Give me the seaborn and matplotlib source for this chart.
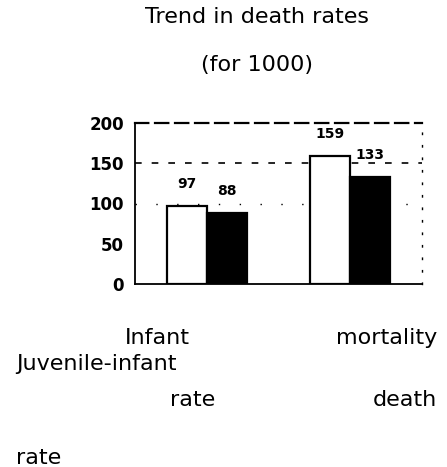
import pandas as pd
import matplotlib
matplotlib.use("Agg")
import matplotlib.pyplot as plt
import seaborn as sns

# values
categories = ["Infant mortality rate", "Juvenile-infant death rate"]
series = ["earlier", "later"]
earlier = [97, 159]
later = [88, 133]
yticks = [0, 50, 100, 150, 200]

data = pd.DataFrame({
    "category": categories * 2,
    "period": [series[0]] * 2 + [series[1]] * 2,
    "rate": earlier + later,
})

sns.set_style("white")
plt.rcParams["font.family"] = ["DejaVu Sans"]
plt.rcParams["text.color"] = "black"
plt.rcParams["ytick.color"] = "black"

W, H = 447, 467
fig = plt.figure(figsize=(W / 100, H / 100), dpi=100)
ax = fig.add_axes([135 / W, 1 - 284 / H, 287 / W, 161 / H])

sns.barplot(data=data, x="category", y="rate", hue="period",
            palette=["white", "black"], edgecolor="black", linewidth=1.6,
            width=0.56, gap=0, legend=False, ax=ax)

for c in ax.containers:
    ax.bar_label(c, padding=11, fontsize=10, fontweight="bold", color="black")

ax.set_xlim(-0.5, 1.5)
ax.set_ylim(0, 200)
ax.set_yticks(yticks)
ax.set_yticklabels([str(t) for t in yticks], fontsize=12, fontweight="bold")
ax.set_xticks([])
ax.set_xlabel("")
ax.set_ylabel("")
ax.tick_params(axis="y", length=0, pad=8, labelcolor="black")

# rough grid lines like the scanned original
ax.axhline(150, color="black", linestyle=(0, (4, 6)), linewidth=1.2, zorder=0)
ax.axhline(100, color="black", linestyle=(0, (1, 14)), linewidth=1, zorder=0)

for s in ["left", "bottom"]:
    ax.spines[s].set_color("black")
    ax.spines[s].set_linewidth(1.3)
ax.spines["top"].set_color("black")
ax.spines["top"].set_linewidth(1.6)
ax.spines["top"].set_linestyle((0, (6, 3)))
ax.spines["right"].set_color("black")
ax.spines["right"].set_linewidth(1)
ax.spines["right"].set_linestyle((0, (1, 8)))

fs = 16
fig.text(257 / W, 1 - 23 / H, "Trend in death rates", ha="center", va="baseline", fontsize=fs)
fig.text(257 / W, 1 - 71 / H, "(for 1000)", ha="center", va="baseline", fontsize=fs)

fig.text(125 / W, 1 - 344 / H, "Infant", ha="left", va="baseline", fontsize=fs)
fig.text(437 / W, 1 - 344 / H, "mortality", ha="right", va="baseline", fontsize=fs)
fig.text(16 / W, 1 - 370 / H, "Juvenile-infant", ha="left", va="baseline", fontsize=fs)
fig.text(170 / W, 1 - 406 / H, "rate", ha="left", va="baseline", fontsize=fs)
fig.text(437 / W, 1 - 406 / H, "death", ha="right", va="baseline", fontsize=fs)
fig.text(16 / W, 1 - 464 / H, "rate", ha="left", va="baseline", fontsize=fs)

fig.savefig("out.png", dpi=100, facecolor="white")
